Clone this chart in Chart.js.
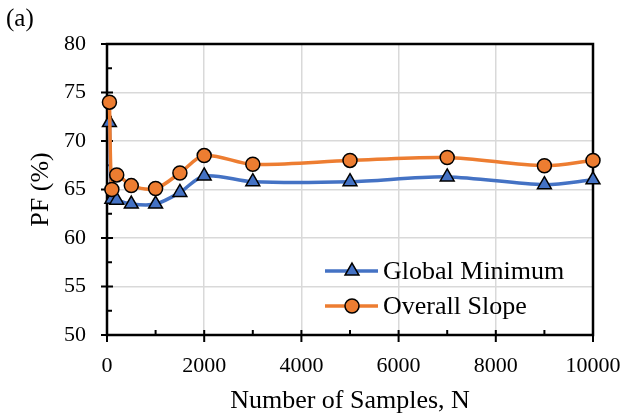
<!DOCTYPE html>
<html>
<head>
<meta charset="utf-8">
<script src="https://cdn.jsdelivr.net/npm/chart.js@4.4.0/dist/chart.umd.min.js"></script>
<style>
    html, body { margin: 0; padding: 0; background: #fff; }
    #wrap { width: 624px; height: 417px; }
</style>
</head>
<body>
<div id="wrap"><canvas id="pfChart" width="624" height="417"></canvas></div>
<script>
const sampleSizes = [50, 100, 200, 500, 1000, 1500, 2000, 3000, 5000, 7000, 9000, 10000];
const globalMinimum = [71.9, 64.0, 63.9, 63.5, 63.5, 64.7, 66.4, 65.8, 65.8, 66.3, 65.5, 66.0];
const overallSlope = [74.0, 65.0, 66.5, 65.4, 65.1, 66.7, 68.5, 67.6, 68.0, 68.3, 67.45, 68.0];
const seriesNames = ["Global Minimum", "Overall Slope"];
const xTicks = [0, 2000, 4000, 6000, 8000, 10000];
const yTicks = [50, 55, 60, 65, 70, 75, 80];

const BLUE = "#4472C4";
const ORANGE = "#ED7D31";
const FONT = "'Liberation Serif', 'Times New Roman', serif";

const toPoints = (values) => values.map((v, i) => ({ x: sampleSizes[i], y: v }));

// axes box, crossing major ticks, inside minor ticks
const framePlugin = {
    id: "frame",
    beforeDatasetsDraw(chart) {
        const { ctx, chartArea: a, scales } = chart;
        const x = scales.x;
        const y = scales.y;
        ctx.save();
        ctx.strokeStyle = "#000";
        ctx.lineWidth = 2.5;
        ctx.strokeRect(a.left, a.top, a.right - a.left, a.bottom - a.top);
        ctx.lineWidth = 2;
        ctx.beginPath();
        xTicks.forEach((v, i) => {
            const px = x.getPixelForValue(v);
            ctx.moveTo(px, a.bottom - 5);
            ctx.lineTo(px, a.bottom + 7);
            if (i < xTicks.length - 1) {
                const mx = x.getPixelForValue((v + xTicks[i + 1]) / 2);
                ctx.moveTo(mx, a.bottom - 5);
                ctx.lineTo(mx, a.bottom);
            }
        });
        yTicks.forEach((v, i) => {
            const py = y.getPixelForValue(v);
            ctx.moveTo(a.left - 6, py);
            ctx.lineTo(a.left + 6, py);
            if (i < yTicks.length - 1) {
                const my = y.getPixelForValue((v + yTicks[i + 1]) / 2);
                ctx.moveTo(a.left, my);
                ctx.lineTo(a.left + 5, my);
            }
        });
        ctx.stroke();
        ctx.restore();
    },
};

const legendPlugin = {
    id: "insideLegend",
    afterDraw(chart) {
        const { ctx } = chart;
        const rows = [
            { name: seriesNames[0], color: BLUE, style: "triangle", radius: 8, y: 271 },
            { name: seriesNames[1], color: ORANGE, style: "circle", radius: 7, y: 306 },
        ];
        ctx.save();
        rows.forEach((row) => {
            ctx.strokeStyle = row.color;
            ctx.lineWidth = 3.5;
            ctx.beginPath();
            ctx.moveTo(325, row.y);
            ctx.lineTo(378, row.y);
            ctx.stroke();

            ctx.fillStyle = row.color;
            ctx.strokeStyle = "#000";
            ctx.lineWidth = 1.5;
            Chart.helpers.drawPoint(ctx, {
                pointStyle: row.style,
                radius: row.radius,
                rotation: 0,
                borderWidth: 1.5,
            }, 352, row.y);

            ctx.fillStyle = "#000";
            ctx.font = "26px " + FONT;
            ctx.textAlign = "left";
            ctx.textBaseline = "middle";
            ctx.fillText(row.name, 383, row.y + 1);
        });
        ctx.font = "25px " + FONT;
        ctx.fillStyle = "#000";
        ctx.textAlign = "left";
        ctx.textBaseline = "middle";
        ctx.fillText("(a)", 6, 19);
        ctx.restore();
    },
};

new Chart(document.getElementById("pfChart").getContext("2d"), {
    type: "line",
    data: {
        datasets: [
            {
                label: seriesNames[1],
                data: toPoints(overallSlope),
                borderColor: ORANGE,
                backgroundColor: ORANGE,
                borderWidth: 3.5,
                tension: 0.3,
                pointStyle: "circle",
                pointRadius: 7,
                pointBackgroundColor: ORANGE,
                pointBorderColor: "#000",
                pointBorderWidth: 1.5,
                clip: false,
            },
            {
                label: seriesNames[0],
                data: toPoints(globalMinimum),
                borderColor: BLUE,
                backgroundColor: BLUE,
                borderWidth: 3.5,
                tension: 0.3,
                pointStyle: "triangle",
                pointRadius: 8,
                pointBackgroundColor: BLUE,
                pointBorderColor: "#000",
                pointBorderWidth: 1.5,
                clip: false,
            },
        ],
    },
    options: {
        responsive: false,
        animation: false,
        devicePixelRatio: 1,
        layout: { padding: { top: 44, right: 31, bottom: 0, left: 0 } },
        plugins: {
            legend: { display: false },
            tooltip: { enabled: false },
        },
        scales: {
            x: {
                type: "linear",
                min: 0,
                max: 10000,
                afterBuildTicks(scale) {
                    scale.ticks = xTicks.map((v) => ({ value: v }));
                },
                afterFit(scale) {
                    scale.height = 82;
                    scale.paddingLeft = 0;
                    scale.paddingRight = 0;
                },
                ticks: {
                    color: "#000",
                    padding: 18,
                    maxRotation: 0,
                    font: { family: FONT, size: 22 },
                    callback: (v) => String(v),
                },
                grid: { color: "#d9d9d9", lineWidth: 1.5, drawTicks: false },
                border: { display: false },
                title: {
                    display: true,
                    text: "Number of Samples, N",
                    color: "#000",
                    font: { family: FONT, size: 26 },
                    padding: { top: 2, bottom: 0 },
                },
            },
            y: {
                min: 50,
                max: 80,
                afterBuildTicks(scale) {
                    scale.ticks = yTicks.map((v) => ({ value: v }));
                },
                afterFit(scale) {
                    scale.width = 107;
                    scale.paddingTop = 0;
                    scale.paddingBottom = 0;
                },
                ticks: {
                    color: "#000",
                    padding: 21,
                    font: { family: FONT, size: 22 },
                },
                grid: { color: "#d9d9d9", lineWidth: 1.5, drawTicks: false },
                border: { display: false },
                title: {
                    display: true,
                    text: "PF (%)",
                    color: "#000",
                    font: { family: FONT, size: 26 },
                    padding: { top: 26, bottom: 0 },
                },
            },
        },
    },
    plugins: [framePlugin, legendPlugin],
});
</script>
</body>
</html>
